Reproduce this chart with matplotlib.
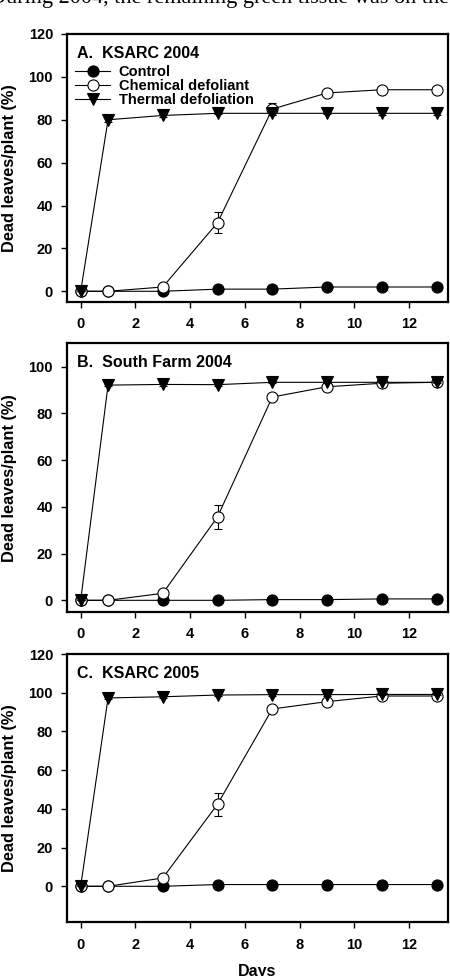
import matplotlib
matplotlib.use("Agg")
import matplotlib.pyplot as plt

plt.rcParams['font.family'] = ['Liberation Sans', 'DejaVu Sans']

days = [0, 1, 3, 5, 7, 9, 11, 13]
series_names = ["Control", "Chemical defoliant", "Thermal defoliation"]
panel_titles = ["A.  KSARC 2004", "B.  South Farm 2004", "C.  KSARC 2005"]

# Panel A
control_A = [0, 0, 0, 1, 1, 2, 2, 2]
chemical_A = [0, 0, 2, 32, 85, 92.5, 94, 94]
chemical_err_A = [0, 0, 0.5, 5, 3, 1, 1.5, 1]
thermal_A = [0, 80, 82, 83, 83, 83, 83, 83]
thermal_err_A = [0, 1, 0.5, 0.5, 1, 0.5, 1, 1]

# Panel B
control_B = [0, 0, 0, 0, 0.3, 0.3, 0.6, 0.6]
chemical_B = [0, 0, 3, 35.7, 87, 91.4, 92.9, 93.3]
chemical_err_B = [0, 0, 0.5, 5, 1, 1, 0.5, 0.5]
thermal_B = [0, 92.1, 92.4, 92.3, 93.3, 93.3, 93.3, 93.3]
thermal_err_B = [0, 0.5, 0.5, 0.5, 0.5, 0.5, 0.5, 0.5]

# Panel C
control_C = [0, 0, 0, 0.9, 0.9, 0.9, 0.9, 0.9]
chemical_C = [0, 0, 4.3, 42.4, 91.6, 95.4, 98.3, 98.3]
chemical_err_C = [0, 0, 0.5, 6, 1, 1, 0.5, 0.5]
thermal_C = [0, 97.3, 97.9, 98.8, 99, 99, 99.1, 99.1]
thermal_err_C = [0, 0.5, 0.5, 0.5, 0.5, 0.5, 0.5, 0.5]

yticks_AC = [0, 20, 40, 60, 80, 100, 120]
yticks_B = [0, 20, 40, 60, 80, 100]
xticks = [0, 2, 4, 6, 8, 10, 12]

panels = [
    (control_A, chemical_A, chemical_err_A, thermal_A, thermal_err_A, (-5, 120), yticks_AC),
    (control_B, chemical_B, chemical_err_B, thermal_B, thermal_err_B, (-5, 110), yticks_B),
    (control_C, chemical_C, chemical_err_C, thermal_C, thermal_err_C, (-18.6, 120), yticks_AC),
]

fig = plt.figure(figsize=(4.5, 9.76), dpi=100)

# page text cut off at the top
fig.text(-0.022, 1 - 3 / 976, "During 2004, the remaining green tissue was on the",
         family=['Liberation Serif', 'DejaVu Serif'], fontsize=16, va='baseline', ha='left')

W, H = 450.0, 976.0
boxes = [(34, 302), (343.3, 612), (654, 922.3)]
left_px, right_px = 67, 448

for i, (box, panel) in enumerate(zip(boxes, panels)):
    top, bot = box
    ax = fig.add_axes([left_px / W, 1 - bot / H, (right_px - left_px) / W, (bot - top) / H])
    ctrl, chem, chem_err, therm, therm_err, ylim, yt = panel
    lw = 0.8
    ms = 8
    ax.errorbar(days, ctrl, color='black', lw=lw, marker='o', ms=ms, mfc='black',
                mec='black', mew=0.8, label=series_names[0], zorder=3)
    ax.errorbar(days, chem, yerr=chem_err, color='black', lw=lw, marker='o', ms=ms,
                mfc='white', mec='black', mew=0.8, capsize=3, elinewidth=0.8,
                capthick=0.8, label=series_names[1], zorder=4)
    ax.errorbar(days, therm, yerr=therm_err, color='black', lw=lw, marker='v', ms=ms,
                mfc='black', mec='black', mew=0.8, capsize=3, elinewidth=0.8,
                capthick=0.8, label=series_names[2], zorder=5)
    ax.set_xlim(-0.5, 13.42)
    ax.set_ylim(*ylim)
    ax.set_xticks(xticks)
    ax.set_yticks(yt)
    for s in ax.spines.values():
        s.set_linewidth(1.6)
    ax.tick_params(direction='out', length=4, width=1, labelsize=10.5, pad=6)
    ax.tick_params(axis='x', pad=7)
    for lab in ax.get_xticklabels() + ax.get_yticklabels():
        lab.set_fontweight('bold')
    ax.set_ylabel("Dead leaves/plant (%)", fontsize=11.8, fontweight='bold')
    ax.yaxis.set_label_coords(-0.131, 0.5)
    ax.text(0.027, 0.928, panel_titles[i], transform=ax.transAxes, fontsize=11.5,
            fontweight='bold', va='center', ha='left')
    if i == 0:
        handles, labels = ax.get_legend_handles_labels()
        handles = [h[0] for h in handles]
        ax.legend(handles, labels, loc='upper left', bbox_to_anchor=(0.021, 0.884),
                  frameon=False, prop={'weight': 'bold', 'size': 10.5},
                  handlelength=2.4, handletextpad=0.6, labelspacing=0.0,
                  borderaxespad=0.0, borderpad=0.0)
    if i == 2:
        ax.set_xlabel("Days", fontsize=11.5, fontweight='bold', labelpad=9)

fig.savefig("out.png", dpi=100)
